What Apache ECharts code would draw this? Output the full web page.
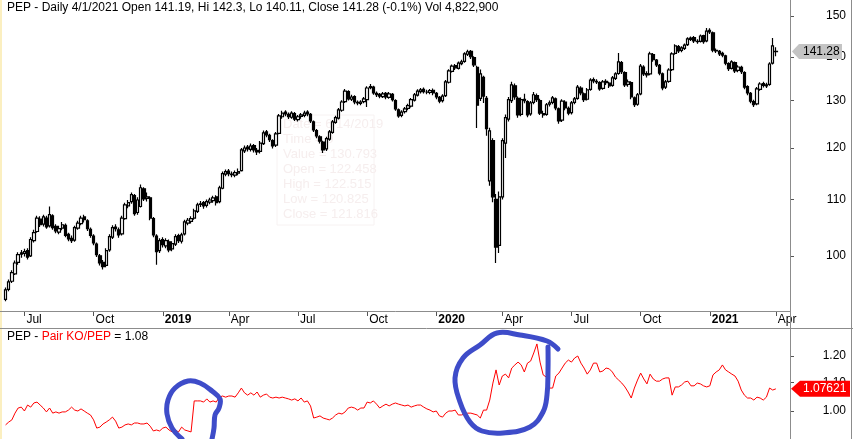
<!DOCTYPE html>
<html><head><meta charset="utf-8">
<script src="https://cdn.jsdelivr.net/npm/echarts@6/dist/echarts.min.js"></script>
<style>html,body{margin:0;padding:0;background:#fff}#c{width:853px;height:439px}</style>
</head><body><div id="c"></div>
<script>
// ---- DATA ----
// PEP candles, one per 3 trading days: [open, close, low, high]
const ohlc = [
[92.9,94.4,92.6,94.8],[94.5,95.7,94.2,96.1],[95.8,97.2,95.5,97.6],[97.0,98.8,96.8,99.2],[98.9,100.2,98.5,100.6],
[100.3,100.5,99.7,101.0],[100.4,100.7,99.9,101.2],[100.9,99.8,99.4,101.3],[100.0,102.8,99.8,103.2],[102.6,104.0,102.3,104.5],
[104.2,106.6,104.0,107.0],[106.4,105.4,105.0,106.9],[105.5,106.8,105.1,107.2],[106.6,105.0,104.7,107.0],[105.2,107.2,104.9,108.7],
[107.0,104.9,104.5,107.3],[105.1,104.3,103.9,105.5],[104.1,104.7,103.7,105.2],[104.8,105.4,104.4,105.9],[105.3,103.5,103.2,105.6],
[103.7,102.9,102.5,104.0],[103.0,102.6,102.2,103.5],[102.7,104.9,102.4,105.2],[104.8,105.7,104.5,106.1],[105.6,106.6,105.3,107.0],
[106.8,106.3,105.8,107.2],[106.1,104.7,104.3,106.4],[104.6,103.5,103.1,104.9],[103.4,102.2,101.8,103.7],[102.0,100.2,99.8,102.3],
[100.0,98.8,98.4,100.3],[98.9,98.2,97.7,99.3],[98.4,100.9,98.1,101.3],[101.0,103.3,100.7,103.7],[103.2,104.9,102.9,105.3],
[105.0,104.7,104.2,105.5],[104.5,103.6,103.1,104.9],[103.8,106.6,103.5,107.0],[106.5,109.0,106.3,109.4],[108.8,109.4,108.4,109.9],
[109.6,110.9,109.2,111.3],[110.7,107.4,107.0,111.0],[107.6,109.9,107.2,110.4],[108.7,112.2,108.5,112.8],[112.0,110.1,109.7,112.3],
[110.2,110.5,109.6,111.3],[110.3,106.6,106.2,110.6],[106.5,103.6,103.2,106.8],[103.4,100.7,98.5,103.7],[100.9,102.6,100.5,103.0],
[102.8,101.9,101.4,103.2],[101.7,102.6,101.3,103.0],[102.4,101.0,100.6,102.8],[101.2,102.1,100.8,102.5],[102.0,103.3,101.7,103.7],
[103.5,102.6,102.2,103.8],[102.5,103.6,102.1,104.0],[103.8,105.9,103.5,106.3],[105.7,106.2,105.3,106.6],[106.0,106.5,105.6,106.9],
[106.6,107.9,106.3,108.3],[107.8,109.0,107.5,109.4],[109.1,109.2,108.6,109.7],[109.4,108.8,108.3,109.7],[108.9,109.6,108.5,110.0],
[109.5,109.9,109.1,110.3],[109.8,110.3,109.4,110.7],[110.5,109.4,108.9,110.8],[109.6,112.2,109.3,112.6],[112.1,114.9,111.9,115.3],
[114.8,115.3,114.4,115.7],[115.4,114.9,114.4,115.8],[114.8,114.7,114.2,115.3],[114.6,115.1,114.2,115.5],[115.0,115.3,114.6,115.9],
[115.5,119.6,115.3,120.0],[119.4,120.0,119.0,120.5],[120.2,119.8,119.3,120.6],[119.7,120.4,119.3,120.9],[120.5,119.6,119.1,120.8],
[119.5,119.2,118.6,120.0],[119.3,121.0,118.9,121.4],[120.9,123.1,120.6,123.6],[123.3,122.7,122.2,123.7],[122.6,121.7,121.2,122.9],
[121.5,120.4,119.9,121.8],[120.6,122.9,120.2,123.3],[123.0,126.7,122.8,127.1],[126.5,127.3,126.1,127.8],[127.5,127.1,126.6,127.9],
[127.0,126.5,126.0,127.4],[126.4,127.3,126.1,127.7],[127.2,126.0,125.6,127.5],[125.9,126.5,125.5,126.9],[126.6,126.9,126.1,127.3],
[126.8,127.3,126.4,127.8],[127.5,127.1,126.6,127.9],[127.0,125.6,125.2,127.3],[125.4,123.7,123.3,125.7],[123.6,122.5,122.0,123.9],
[122.3,121.4,120.9,122.6],[121.2,119.6,119.0,121.5],[119.8,121.9,119.4,122.3],[121.8,123.3,121.5,123.7],[123.2,125.4,122.9,125.8],
[125.3,126.3,125.0,126.7],[126.2,128.0,125.9,128.4],[127.9,129.7,127.6,130.1],[129.8,132.1,129.5,132.6],[132.0,130.4,130.0,132.3],
[130.3,130.8,129.9,131.3],[130.9,129.7,129.2,131.2],[129.6,129.5,129.0,130.0],[129.4,129.7,129.0,130.1],[129.8,130.4,129.4,130.8],
[130.2,132.8,128.6,133.2],[132.9,133.1,132.5,133.7],[133.0,131.7,131.3,133.3],[131.6,131.3,130.8,132.0],[131.4,131.0,130.5,131.7],
[130.9,131.5,130.6,131.9],[131.6,130.8,130.3,131.9],[130.7,131.5,130.4,131.9],[131.4,130.2,129.8,131.7],[130.0,128.2,127.8,130.3],
[128.0,126.7,126.3,128.3],[126.8,127.5,126.4,127.9],[127.6,128.2,127.2,128.6],[128.3,128.9,127.9,129.3],[128.8,130.2,128.5,130.6],
[130.1,131.3,129.8,131.7],[131.2,132.1,130.9,132.5],[132.0,132.4,131.6,132.8],[132.5,132.0,131.6,132.9],[131.9,131.9,131.4,132.4],
[131.8,132.2,131.4,132.6],[132.3,131.7,131.2,132.7],[131.6,130.8,130.3,131.9],[130.7,129.9,129.4,131.0],[130.0,131.0,129.6,131.4],
[131.1,134.2,130.8,134.6],[134.1,136.7,133.8,137.1],[136.6,137.8,136.3,138.2],[137.9,137.4,136.9,138.3],[137.3,138.5,137.0,138.9],
[138.4,138.8,138.0,139.3],[138.9,140.7,138.6,141.1],[140.6,141.2,140.2,141.7],[141.3,140.0,139.5,141.6],[139.8,138.1,137.6,140.1],
[137.5,129.0,124.1,137.9],[130.5,136.0,129.9,137.0],[135.2,131.0,129.5,135.6],[130.5,124.0,122.5,131.0],[113.5,123.5,112.6,124.2],
[121.5,110.5,109.5,122.0],[110.0,101.5,98.8,111.0],[101.8,110.5,100.5,111.5],[110.5,121.5,110.0,122.0],[121.0,126.3,118.0,127.0],
[126.0,130.2,125.5,130.8],[130.0,133.5,129.5,134.2],[133.3,130.8,130.2,133.8],[130.5,126.9,126.3,130.9],[127.0,130.2,126.6,130.7],
[130.3,130.0,129.4,131.5],[129.8,126.9,126.4,130.1],[127.1,129.5,126.7,129.9],[129.6,131.3,129.2,131.9],[131.1,130.2,129.7,131.6],
[130.0,127.3,126.9,130.4],[127.2,126.9,126.3,127.8],[127.0,129.1,126.7,129.5],[129.2,129.5,128.7,130.0],[129.6,130.6,129.2,131.0],
[130.4,128.4,127.9,130.7],[128.2,125.6,125.0,128.5],[125.8,129.9,125.4,130.3],[129.7,128.4,127.9,130.1],[128.3,127.3,126.8,128.7],
[127.4,129.5,127.0,129.9],[129.6,130.4,129.2,130.8],[130.5,133.0,130.2,133.5],[132.8,131.7,131.2,133.2],[131.5,130.2,129.7,131.8],
[130.3,132.4,130.0,132.8],[132.5,134.6,132.2,135.0],[134.7,134.4,133.9,135.2],[134.3,134.2,133.7,134.8],[134.0,132.6,132.2,134.3],
[132.7,134.2,132.4,134.6],[134.3,134.0,133.5,134.8],[133.9,133.3,132.8,134.2],[133.4,135.1,133.1,135.5],[135.0,136.0,134.6,136.4],
[136.1,138.8,135.8,140.9],[138.6,136.5,136.0,139.0],[136.3,133.5,133.0,136.6],[133.6,134.2,133.1,134.7],[134.0,130.8,130.3,134.3],
[130.6,129.1,128.6,130.9],[129.2,131.3,128.9,131.7],[131.5,137.8,131.2,138.3],[137.6,136.0,135.5,138.0],[136.1,135.8,135.2,136.6],
[136.0,140.7,135.7,141.2],[140.5,139.3,138.8,140.9],[139.2,138.1,137.6,139.5],[138.0,136.2,135.7,138.3],[136.0,132.8,132.3,136.3],
[133.0,134.2,132.6,134.6],[134.3,136.9,134.0,137.3],[137.0,140.7,136.7,141.1],[140.8,142.6,140.5,143.0],[142.4,141.4,140.9,142.8],
[141.5,142.1,141.1,142.5],[142.0,142.8,141.6,143.2],[142.9,144.3,142.6,144.7],[144.2,144.5,143.8,144.9],[144.6,143.8,143.3,145.0],
[143.7,143.6,143.1,144.2],[143.7,145.0,143.4,145.4],[145.1,143.6,143.1,145.3],[143.8,146.2,143.5,147.0],[146.4,146.0,145.5,146.9],
[145.8,141.6,141.1,146.1],[141.5,141.4,140.9,142.0],[141.3,140.7,140.2,141.6],[140.8,140.4,139.9,141.2],[140.2,138.5,138.0,140.5],
[138.4,137.2,136.7,138.7],[137.3,138.8,137.0,139.2],[138.6,136.7,136.2,138.9],[136.8,137.6,136.4,138.0],[137.5,136.5,136.0,137.9],
[136.3,133.0,132.5,136.6],[133.1,131.7,131.2,133.4],[131.6,129.9,129.4,131.9],[129.8,129.1,128.6,130.2],[129.3,132.6,129.0,133.0],
[132.5,133.7,132.2,134.1],[133.8,133.4,132.9,134.2],[133.3,133.5,132.8,134.0],[133.6,138.3,133.3,138.7],[138.5,142.6,138.2,144.5],
[141.19,141.28,140.11,142.3]
];
// Pair KO/PEP ratio, same sampling
const ratio = [
0.955,0.964,0.971,0.993,1.010,1.013,1.000,1.020,1.013,1.027,
1.030,1.020,1.010,0.997,1.010,0.993,0.997,0.993,0.997,0.997,
1.003,1.013,1.003,1.000,1.007,1.000,0.993,0.987,0.971,0.945,
0.948,0.958,0.964,0.971,0.980,0.967,0.945,0.948,0.955,0.958,
0.955,0.961,0.961,0.958,0.958,0.961,0.951,0.936,0.939,0.936,
0.945,0.948,0.939,0.933,0.939,0.933,0.948,0.939,0.936,0.933,
1.034,1.034,1.034,1.030,1.041,1.030,1.034,1.030,1.047,1.051,
1.047,1.051,1.051,1.047,1.062,1.079,1.062,1.054,1.062,1.054,
1.065,1.047,1.054,1.058,1.047,1.044,1.047,1.044,1.047,1.044,
1.041,1.037,1.041,1.034,1.044,1.030,1.034,1.017,0.977,0.980,
0.984,0.977,0.974,0.971,0.977,0.987,0.993,0.990,0.997,1.010,
1.013,1.010,1.003,1.010,1.010,1.030,1.027,1.034,1.023,1.010,
1.017,1.023,1.017,1.023,1.027,1.023,1.020,1.017,1.020,1.013,
1.017,1.020,1.020,1.013,1.007,1.003,0.997,1.000,0.984,0.980,
0.993,1.000,1.000,1.003,0.987,0.987,0.990,0.993,0.993,0.990,
0.987,0.977,1.003,1.003,1.037,1.097,1.146,1.090,1.123,1.130,
1.116,1.153,1.165,1.176,1.165,1.138,1.172,1.180,1.212,1.249,
1.176,1.127,1.119,1.079,1.079,1.123,1.134,1.153,1.172,1.184,
1.176,1.192,1.200,1.172,1.153,1.130,1.146,1.172,1.172,1.138,
1.142,1.153,1.150,1.138,1.119,1.108,1.097,1.083,1.065,1.044,
1.079,1.108,1.134,1.112,1.094,1.130,1.112,1.104,1.104,1.112,
1.116,1.116,1.054,1.083,1.083,1.090,1.101,1.104,1.087,1.087,
1.097,1.094,1.087,1.083,1.087,1.127,1.138,1.146,1.165,1.146,
1.138,1.130,1.123,1.104,1.072,1.054,1.044,1.044,1.037,1.047,
1.044,1.037,1.047,1.079,1.072,1.0762
];
const tickLabels = ['Jul','Oct','2019','Apr','Jul','Oct','2020','Apr','Jul','Oct','2021','Apr'];
const yearLabels = ['2019','2020','2021'];
const priceTicks = [100,110,120,130,140,150];
const ratioTicks = [1.00,1.10,1.20];
const lastDate = '2021-04-01';
const weekdaysPerCandle = 3;
const padCandles = 4;
const lastPrice = 141.28, lastPriceText = '141.28';
const lastRatio = 1.07621, lastRatioText = '1.07621';
const titleTop = 'PEP - Daily 4/1/2021 Open 141.19, Hi 142.3, Lo 140.11, Close 141.28 (-0.1%) Vol 4,822,900';
const titleBottomParts = ['PEP - ', 'Pair KO/PEP', ' = 1.08'];
const ghostLines = ['Date = 6/14/2019','Time = 0','Value = 130.793','Open = 122.458','High = 122.515','Low = 120.825','Close = 121.816'];

// ---- categories (trading-day dates) ----
function stepWeekdays(d, n, dir){ const r = new Date(d); let k=0; while(k<n){ r.setUTCDate(r.getUTCDate()+dir); const w=r.getUTCDay(); if(w!==0&&w!==6) k++; } return r; }
const N = ohlc.length;
const dates = [];
let d = new Date(lastDate + 'T00:00:00Z');
for (let i=0;i<N;i++){ dates.unshift(d); d = stepWeekdays(d, weekdaysPerCandle, -1); }
d = new Date(lastDate + 'T00:00:00Z');
for (let i=0;i<padCandles;i++){ d = stepWeekdays(d, weekdaysPerCandle, 1); dates.push(d); }
const cats = dates.map(x => x.toISOString().slice(0,10));
const labelAt = new Map();
let li = 0;
for (let i=1;i<dates.length && li<tickLabels.length;i++){
  const m = dates[i].getUTCMonth(), pm = dates[i-1].getUTCMonth();
  if (m !== pm && m % 3 === 0) { labelAt.set(i, tickLabels[li++]); }
}

const FONT = '"Liberation Sans", Arial, sans-serif';
const GRAY = '#8c8c8c';
const chart = echarts.init(document.getElementById('c'), null, {renderer:'canvas'});
const gridL = 4, gridW = 786;
chart.setOption({
  animation: false,
  backgroundColor: '#ffffff',
  grid: [
    {left: gridL, top: 0, width: gridW, height: 311, containLabel: false, outerBoundsMode: 'none'},
    {left: gridL, top: 328, width: gridW, height: 111, containLabel: false, outerBoundsMode: 'none'}
  ],
  xAxis: [
    {type: 'category', gridIndex: 0, data: cats, boundaryGap: true,
     axisLine: {show: false},
     axisTick: {show: true, alignWithLabel: true, length: 5, interval: (i) => labelAt.has(i), lineStyle: {color: '#555'}},
     axisLabel: {show: true, interval: (i) => labelAt.has(i), align: 'left', margin: 3, padding: [0,0,0,2],
       color: '#000', fontFamily: FONT, fontSize: 12,
       formatter: (v, i) => { const t = labelAt.get(i) || ''; return yearLabels.includes(t) ? '{y|' + t + '}' : '{m|' + t + '}'; },
       rich: {y: {fontWeight: 'bold', fontSize: 12, fontFamily: FONT, color: '#000'}, m: {fontSize: 12, fontFamily: FONT, color: '#000'}}},
     splitLine: {show: false}},
    {type: 'category', gridIndex: 1, data: cats, boundaryGap: true, show: false}
  ],
  yAxis: [
    {type: 'log', logBase: 10, gridIndex: 0, position: 'right', min: 91.1, max: 154.1,
     axisLine: {show: false}, splitLine: {show: false},
     axisTick: {show: true, length: 4, customValues: priceTicks, lineStyle: {color: '#555'}},
     axisLabel: {customValues: priceTicks, align: 'right', margin: 56, color: '#000', fontFamily: FONT, fontSize: 12}},
    {type: 'log', logBase: 10, gridIndex: 1, position: 'right', min: 0.9114, max: 1.3167,
     axisLine: {show: false}, splitLine: {show: false},
     axisTick: {show: true, length: 4, customValues: ratioTicks, lineStyle: {color: '#555'}},
     axisLabel: {customValues: ratioTicks, align: 'right', margin: 56, color: '#000', fontFamily: FONT, fontSize: 12,
       formatter: (v) => Number(v).toFixed(2)}}
  ],
  series: [
    {type: 'candlestick', xAxisIndex: 0, yAxisIndex: 0, data: ohlc, barWidth: 2.8,
     itemStyle: {color: '#ffffff', color0: '#000000', borderColor: '#000000', borderColor0: '#000000', borderWidth: 1.2}},
    {type: 'line', xAxisIndex: 1, yAxisIndex: 1, data: ratio, showSymbol: false, symbol: 'none',
     lineStyle: {color: '#ff0000', width: 1}}
  ]
});

const yP = chart.convertToPixel({yAxisIndex: 0}, lastPrice);
const yR = chart.convertToPixel({yAxisIndex: 1}, lastRatio);
const axX = gridL + gridW + 0.5;
const blue = '#3e4cc9';
const g = [];
g.push({type:'rect', shape:{x:0,y:0,width:2,height:439}, style:{fill:'#fbefc0'}, z:50});
g.push({type:'line', shape:{x1:axX,y1:0,x2:axX,y2:439}, style:{stroke:GRAY,lineWidth:1}, z:50});
g.push({type:'line', shape:{x1:0,y1:311.5,x2:axX,y2:311.5}, style:{stroke:GRAY,lineWidth:1}, z:50});
g.push({type:'line', shape:{x1:0,y1:328.5,x2:853,y2:328.5}, style:{stroke:GRAY,lineWidth:1}, z:50});
g.push({type:'line', shape:{x1:851.5,y1:0,x2:851.5,y2:439}, style:{stroke:GRAY,lineWidth:1}, z:50});
// ghost tooltip
g.push({type:'rect', shape:{x:277,y:115,width:97,height:110}, style:{fill:'rgba(255,255,255,0)', stroke:'#f7f2f2', lineWidth:1}, z:0});
ghostLines.forEach((t, k) => g.push({type:'text', x:283, y:118 + k*15, style:{text:t, font:'13px ' + FONT, fill:'#f6eeee', textVerticalAlign:'top'}, z:0}));
// titles
g.push({type:'text', x:7, y:2, style:{text:titleTop, font:'12px ' + FONT, fill:'#000', textVerticalAlign:'top'}, z:60});
g.push({type:'text', x:7, y:331, style:{text:'{a|' + titleBottomParts[0] + '}{b|' + titleBottomParts[1] + '}{a|' + titleBottomParts[2] + '}',
  font:'12px ' + FONT, textVerticalAlign:'top',
  rich:{a:{fill:'#000', font:'12px ' + FONT}, b:{fill:'#ff0000', font:'12px ' + FONT}}}, z:60});
// last value labels
g.push({type:'polygon', shape:{points:[[792,yP],[799,yP-7.5],[842,yP-7.5],[842,yP+7.5],[799,yP+7.5]]}, style:{fill:'#c4c4c4'}, z:70});
g.push({type:'text', x:803, y:yP, style:{text:lastPriceText, font:'12px ' + FONT, fill:'#000', textVerticalAlign:'middle'}, z:71});
g.push({type:'polygon', shape:{points:[[791,yR],[800,yR-8],[850,yR-8],[850,yR+8],[800,yR+8]]}, style:{fill:'#ff0000'}, z:70});
g.push({type:'text', x:803, y:yR, style:{text:lastRatioText, font:'12px ' + FONT, fill:'#fff', textVerticalAlign:'middle'}, z:71});
// hand drawn annotations
g.push({type:'polyline', shape:{smooth:0.4, points:[[182,439],[172,428],[167,414],[168,400],[175,388],[188,381],[200,383],[212,391],[220,399],[219,408],[215,415],[214,428],[212,439]]},
  style:{stroke:blue, lineWidth:5, fill:null, lineCap:'round', lineJoin:'round'}, z:90});
g.push({type:'polyline', shape:{smooth:0.4, points:[[558,349],[547,341],[520,335],[497,333],[480,345],[463,358],[455,378],[460,402],[470,422],[482,431],[503,433],[530,427],[543,412],[547,395],[548,370],[548,347]]},
  style:{stroke:blue, lineWidth:5, fill:null, lineCap:'round', lineJoin:'round'}, z:90});
chart.setOption({graphic: g});
</script></body></html>
